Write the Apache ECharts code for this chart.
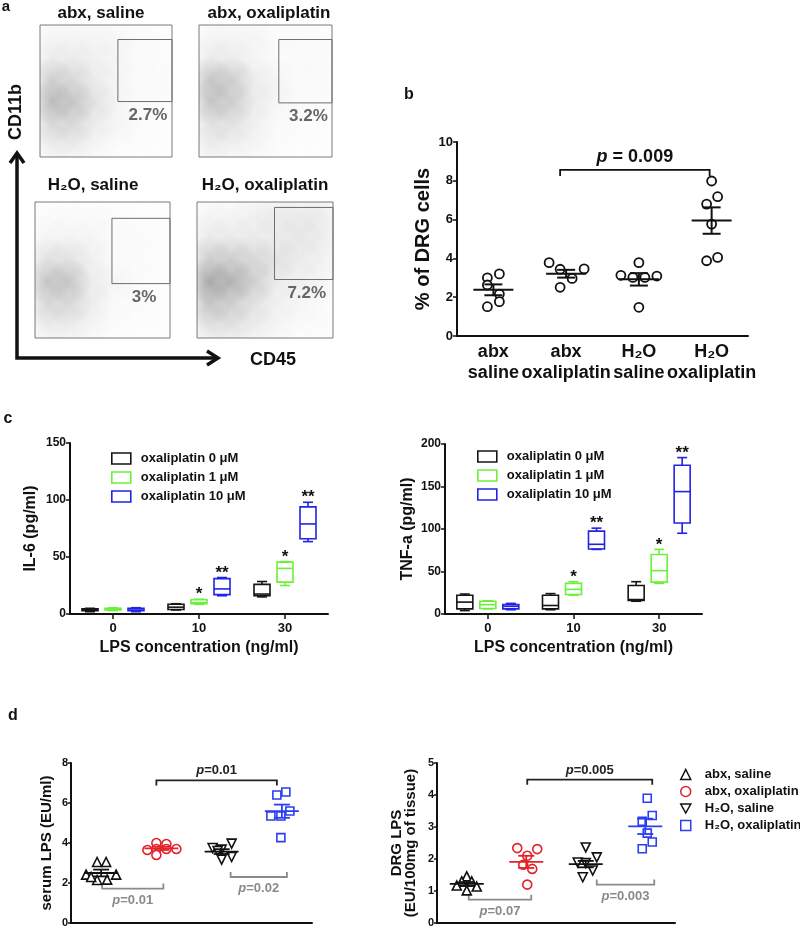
<!DOCTYPE html>
<html><head><meta charset="utf-8">
<script src="https://cdn.jsdelivr.net/npm/echarts@6/dist/echarts.min.js"></script>
<style>html,body{margin:0;padding:0;background:#fff}#c{width:800px;height:929px}</style>
</head><body><div id="c"></div>
<script>
// ================= DATA =================
// Panel a: flow cytometry (CD45 x CD11b), relative event density read on a 6x6 grid (rows top->bottom)
const flowTitles = ['abx, saline', 'abx, oxaliplatin', 'H\u2082O, saline', 'H\u2082O, oxaliplatin'];
const flowPercent = ['2.7%', '3.2%', '3%', '7.2%'];
const gateCD45 = [[59, 100], [60, 100], [57, 100], [57, 100]];     // gate range on CD45 scale (0-100)
const gateCD11b = [[42, 89], [41, 89], [40, 88], [43, 96]];        // gate range on CD11b scale (0-100)
const densAbxSaline = [
  [1, 1, 1, 0.8, 0.5, 0.3],
  [2, 2, 1.5, 1, 0.5, 0.5],
  [5, 4, 2, 1, 0.5, 0.5],
  [7, 6, 3, 1, 0.5, 0.5],
  [4, 4, 2, 1, 0.5, 0.3],
  [2, 2, 1, 0.5, 0.3, 0.3]];
const densAbxOxali = [
  [1, 1, 1, 0.5, 0.5, 0.5],
  [2, 2, 1, 0.5, 0.5, 0.5],
  [6, 5, 2, 1, 0.5, 0.5],
  [6, 5, 2, 1, 0.5, 0.5],
  [3, 3, 1.5, 0.5, 0.5, 0.3],
  [2, 1.5, 1, 0.5, 0.3, 0.3]];
const densH2OSaline = [
  [0.5, 0.5, 0.5, 0.5, 0.3, 0.3],
  [1, 1, 1, 0.5, 0.5, 0.3],
  [3, 3, 1.5, 0.5, 0.5, 0.3],
  [6, 6, 2, 1, 0.5, 0.3],
  [4, 4, 2, 0.5, 0.5, 0.3],
  [2, 2, 1, 0.5, 0.3, 0.3]];
const densH2OOxali = [
  [1, 1, 1.5, 2, 2, 2],
  [2, 2, 2, 2, 2.5, 2],
  [5, 5, 4, 3, 2, 1.5],
  [9, 8, 5, 2, 1.5, 1],
  [6, 5, 3, 1.5, 1, 0.5],
  [3, 3, 2, 1, 0.5, 0.5]];

// Panel b: % of DRG cells
const bCategories = ['abx\nsaline', 'abx\noxaliplatin', 'H\u2082O\nsaline', 'H\u2082O\noxaliplatin'];
const bAbxSaline = [3.0, 3.2, 2.63, 2.16, 1.77, 1.51];
const bAbxOxali = [3.78, 3.44, 3.46, 2.97, 2.51];
const bH2OSaline = [3.78, 3.13, 3.02, 3.02, 3.09, 1.48];
const bH2OOxali = [7.99, 7.18, 6.8, 5.77, 4.05, 3.88];
const bMean = [2.38, 3.21, 2.92, 5.95];
const bSem = [0.28, 0.2, 0.32, 0.68];
const bBrackets = [[1, 3, 8.56]];
const bBracketText = ['{i|p} = 0.009'];
const bTicks = [0, 2, 4, 6, 8, 10];

// Panel c: cytokines (box: min, q1, median, q3, max) per LPS concentration
const lpsCategories = ['0', '10', '30'];
const doseNames = ['oxaliplatin 0 \u03bcM', 'oxaliplatin 1 \u03bcM', 'oxaliplatin 10 \u03bcM'];
const il6Dose0 = [[2, 3, 3.5, 4.5, 5], [3.5, 4, 6, 8.5, 9], [15, 16, 17.5, 26, 28.5]];
const il6Dose1 = [[3, 3.5, 4, 5, 5.5], [8.5, 9, 10, 12.5, 13], [25, 28, 40, 45.5, 46]];
const il6Dose10 = [[2, 3, 3.5, 5, 5.5], [16, 17, 22, 31, 32], [63.5, 66, 79, 94, 98]];
const tnfDose0 = [[4, 6, 14, 22, 23.5], [5, 6, 10, 22, 24], [15, 16, 17, 33.5, 38]];
const tnfDose1 = [[6, 6.5, 11, 15, 15.6], [22, 23, 29, 36, 38], [36, 37.5, 51, 70, 76]];
const tnfDose10 = [[5, 6, 9, 11, 12.5], [76, 76.5, 82, 97.5, 101], [95, 107, 144, 175, 184]];
const starsDose0 = ['', '', ''];
const starsDose1 = ['', '*', '*'];
const starsDose10 = ['', '**', '**'];

// Panel d: LPS levels
const dGroups = ['abx, saline', 'abx, oxaliplatin', 'H\u2082O, saline', 'H\u2082O, oxaliplatin'];
const serumAbxSaline = [3.05, 3.05, 2.42, 2.42, 2.15, 2.17, 2.3];
const serumAbxOxali = [4.0, 3.95, 3.65, 3.7, 3.7, 3.7, 3.4];
const serumH2OSaline = [3.75, 3.67, 3.97, 3.17, 3.3, 3.6];
const serumH2OOxali = [6.4, 6.55, 5.35, 5.35, 5.6, 4.27];
const serumMean = [2.5, 3.73, 3.57, 5.59];
const serumSem = [0.17, 0.08, 0.12, 0.33];
const serumBrackets = [[1, 3, 7.13], [0, 1, 1.72], [2, 3, 2.3]];
const serumBracketText = ['{i|p}=0.01', '{i|p}=0.01', '{i|p}=0.02'];
const drgAbxSaline = [1.46, 1.3, 1.3, 1.17, 1.14, 1.02];
const drgAbxOxali = [2.34, 2.31, 2.1, 1.82, 1.69, 1.2];
const drgH2OSaline = [2.36, 2.05, 1.89, 1.87, 1.64, 1.43];
const drgH2OOxali = [3.9, 3.36, 3.18, 2.81, 2.53, 2.32];
const drgMean = [1.22, 1.91, 1.84, 3.02];
const drgSem = [0.06, 0.19, 0.1, 0.24];
const drgBrackets = [[1, 3, 4.48], [0, 1, 0.73], [2, 3, 1.2]];
const drgBracketText = ['{i|p}=0.005', '{i|p}=0.07', '{i|p}=0.003'];

// ================= STYLE (jitter offsets in px, colors, layout) =================
const FONT = '"Liberation Sans", Arial, Helvetica, sans-serif';
const bJitter = [[-6, 6, -6, 6, 6, -6], [-17, -6, 18, 6, -6], [0, -18, -6, 6, 18, 0], [0, 6, -5, 0, 6, -5]];
const serumJitter = [[-4, 5, -15, 15, -4, 6, -10], [-5, 5, -14, -5, 5, 15, -5], [-9, 0, 10, 0, 10, -4], [-5, 4, -11, -1, 8, -1]];
const drgJitter = [[0, -5, 5, -10, 10, 0], [-9, 11, 1, -3, 6, 1], [0, 11, -8, 0, 7, -3], [2, 7, -3, 2, 7, -3]];
const doseColors = ['#151515', '#6cf03a', '#2323e6'];
const doseOffsets = [-23, 0, 23];
const groupColors = ['#111111', '#e3222b', '#111111', '#2b3ef0'];
const groupSymbols = ['triangle', 'circle', 'triangle', 'rect'];
const groupRotate = [0, 0, 180, 0];
const serumBracketStyle = [
  { dx1: -5, dx2: -5, down: true, color: '#222' },
  { dx1: 1, dx2: 2, down: false, color: '#8a8a8a' },
  { dx1: 9, dx2: 5, down: false, color: '#8a8a8a' }];
const drgBracketStyle = [
  { dx1: 1, dx2: 7, down: true, color: '#222' },
  { dx1: 2, dx2: 5, down: false, color: '#8a8a8a' },
  { dx1: 11, dx2: 9, down: false, color: '#8a8a8a' }];
const bBracketStyle = [{ dx1: -6, dx2: -2, down: true, color: '#111' }];

// ================= BUILD =================
const chart = echarts.init(document.getElementById('c'));

const grids = [
  { left: 40, top: 25, width: 132, height: 132 },
  { left: 199, top: 25, width: 133, height: 132 },
  { left: 35, top: 202, width: 135, height: 136 },
  { left: 197, top: 202, width: 136, height: 136 },
  { left: 457, top: 142, width: 291, height: 194 },
  { left: 70, top: 443, width: 258, height: 171 },
  { left: 445, top: 444, width: 257, height: 170 },
  { left: 71, top: 763, width: 241, height: 160 },
  { left: 437, top: 763, width: 238, height: 160 }
].map((g, i) => Object.assign({
  outerBoundsMode: 'none', containLabel: false,
  show: i < 4, borderColor: '#7a7a7a', borderWidth: 1, backgroundColor: 'transparent'
}, g));

const xAxes = [], yAxes = [];
for (let k = 0; k < 4; k++) {
  xAxes.push({ gridIndex: k, type: 'value', min: 0, max: 100, show: false });
  yAxes.push({ gridIndex: k, type: 'value', min: 0, max: 100, show: false });
}
const axLine = { show: true, lineStyle: { color: '#111', width: 2 } };
const tickLbl = (size) => ({ color: '#111', fontFamily: FONT, fontWeight: 'bold', fontSize: size });
// b
xAxes.push({ gridIndex: 4, type: 'category', data: bCategories, axisLine: axLine, axisTick: { show: false },
  axisLabel: Object.assign(tickLbl(18), { margin: 6, lineHeight: 21, interval: 0 }) });
yAxes.push({ gridIndex: 4, type: 'value', min: 0, max: 10, interval: 2, axisLine: axLine,
  axisTick: { show: true, length: 4, lineStyle: { width: 1.5, color: '#111' } }, splitLine: { show: false },
  axisLabel: Object.assign(tickLbl(13), { margin: 4 }),
  name: '% of DRG cells', nameLocation: 'middle', nameGap: 24, nameRotate: 90,
  nameTextStyle: { color: '#111', fontFamily: FONT, fontWeight: 'bold', fontSize: 20 } });
// c
[[5, 'IL-6 (pg/ml)', 150, 31], [6, 'TNF-a (pg/ml)', 200, 29]].forEach(([gi, nm, mx, gap]) => {
  xAxes.push({ gridIndex: gi, type: 'category', data: lpsCategories, axisLine: axLine,
    axisTick: { show: true, alignWithLabel: true, length: 5, lineStyle: { width: 1.5, color: '#111' } },
    axisLabel: Object.assign(tickLbl(13), { margin: 8 }),
    name: 'LPS concentration (ng/ml)', nameLocation: 'middle', nameGap: 26,
    nameTextStyle: { color: '#111', fontFamily: FONT, fontWeight: 'bold', fontSize: 16 } });
  yAxes.push({ gridIndex: gi, type: 'value', min: 0, max: mx, interval: 50, axisLine: axLine,
    axisTick: { show: true, length: 4, lineStyle: { width: 1.5, color: '#111' } }, splitLine: { show: false },
    axisLabel: Object.assign(tickLbl(12), { margin: 4 }),
    name: nm, nameLocation: 'middle', nameGap: gap, nameRotate: 90,
    nameTextStyle: { color: '#111', fontFamily: FONT, fontWeight: 'bold', fontSize: 16 } });
});
// d
[[7, 'serum LPS (EU/ml)', 8, 2, 17], [8, 'DRG LPS\n(EU/100mg of tissue)', 5, 1, 19]].forEach(([gi, nm, mx, iv, gap]) => {
  xAxes.push({ gridIndex: gi, type: 'category', data: dGroups, axisLine: axLine,
    axisTick: { show: false }, axisLabel: { show: false } });
  yAxes.push({ gridIndex: gi, type: 'value', min: 0, max: mx, interval: iv, axisLine: axLine,
    axisTick: { show: true, length: 3, lineStyle: { width: 1.5, color: '#111' } }, splitLine: { show: false },
    axisLabel: Object.assign(tickLbl(11), { margin: 3 }),
    name: nm, nameLocation: 'middle', nameGap: gap, nameRotate: 90,
    nameTextStyle: { color: '#111', fontFamily: FONT, fontWeight: 'bold', fontSize: 15, lineHeight: 14 } });
});

const series = [];

// ---- panel a ----
const densities = [densAbxSaline, densAbxOxali, densH2OSaline, densH2OOxali];
const CELL = 100 / 6;
densities.forEach((grid, k) => {
  const data = [];
  grid.forEach((row, r) => row.forEach((d, c) => data.push([(c + 0.5) * CELL, 100 - (r + 0.5) * CELL, d])));
  series.push({
    type: 'custom', name: 'events' + k, xAxisIndex: k, yAxisIndex: k, clip: true, silent: true,
    data,
    renderItem: (params, api) => {
      const p = api.coord([api.value(0), api.value(1)]);
      const p2 = api.coord([api.value(0) + CELL, api.value(1)]);
      const rad = (p2[0] - p[0]) * 1.05;
      const a = Math.min(0.4, api.value(2) * 0.042);
      return { type: 'circle', shape: { cx: p[0], cy: p[1], r: rad },
        style: { fill: { type: 'radial', x: 0.5, y: 0.5, r: 0.5,
          colorStops: [{ offset: 0, color: 'rgba(40,40,40,' + a + ')' }, { offset: 1, color: 'rgba(40,40,40,0)' }] } } };
    }
  });
  series.push({
    type: 'custom', name: 'gate' + k, xAxisIndex: k, yAxisIndex: k, silent: true,
    data: [[gateCD45[k][0], gateCD45[k][1], gateCD11b[k][0], gateCD11b[k][1]]],
    renderItem: (params, api) => {
      const tl = api.coord([api.value(0), api.value(3)]);
      const br = api.coord([api.value(1), api.value(2)]);
      return { type: 'group', children: [
        { type: 'rect', shape: { x: tl[0], y: tl[1], width: br[0] - tl[0], height: br[1] - tl[1] },
          style: { fill: 'none', stroke: '#6e6e6e', lineWidth: 1 } },
        { type: 'text', x: (tl[0] + br[0]) / 2 + 3, y: br[1] + 5,
          style: { text: flowPercent[k], fill: '#666', font: 'bold 17px ' + FONT, align: 'center', verticalAlign: 'top' } }
      ] };
    }
  });
});

// ---- generic renderers ----
function meanSemRender(colors, halfMean, halfCap, lw) {
  return (params, api) => {
    const i = api.value(0), m = api.value(1), s = api.value(2);
    const pm = api.coord([i, m]), pt = api.coord([i, m + s]), pb = api.coord([i, m - s]);
    const x = pm[0];
    const st = { stroke: colors[params.dataIndex], lineWidth: lw };
    return { type: 'group', children: [
      { type: 'line', shape: { x1: x - halfMean, y1: pm[1], x2: x + halfMean, y2: pm[1] }, style: st },
      { type: 'line', shape: { x1: x, y1: pt[1], x2: x, y2: pb[1] }, style: st },
      { type: 'line', shape: { x1: x - halfCap, y1: pt[1], x2: x + halfCap, y2: pt[1] }, style: st },
      { type: 'line', shape: { x1: x - halfCap, y1: pb[1], x2: x + halfCap, y2: pb[1] }, style: st }
    ] };
  };
}
function bracketRender(texts, styles, tick, fontSize, gapUp, gapDown) {
  return (params, api) => {
    const st = styles[params.dataIndex];
    const p1 = api.coord([api.value(0), api.value(2)]);
    const p2 = api.coord([api.value(1), api.value(2)]);
    const x1 = p1[0] + st.dx1, x2 = p2[0] + st.dx2, y = p1[1];
    const t = st.down ? tick : -tick;
    return { type: 'group', children: [
      { type: 'polyline', shape: { points: [[x1, y + t], [x1, y], [x2, y], [x2, y + t]] },
        style: { fill: 'none', stroke: st.color, lineWidth: 1.8 } },
      { type: 'text', x: (x1 + x2) / 2, y: st.down ? y - gapUp : y + gapDown,
        style: { text: texts[params.dataIndex], fill: st.color, font: 'bold ' + fontSize + 'px ' + FONT,
          align: 'center', verticalAlign: st.down ? 'bottom' : 'top',
          rich: { i: { fontStyle: 'italic', fontWeight: 'bold', fontSize: fontSize, fontFamily: FONT, fill: st.color } } } }
    ] };
  };
}

// ---- panel b ----
const bGroupsVals = [bAbxSaline, bAbxOxali, bH2OSaline, bH2OOxali];
const bPts = [];
bGroupsVals.forEach((vals, g) => vals.forEach((v, j) => bPts.push({ value: [g, v], symbolOffset: [bJitter[g][j], 0] })));
series.push({ type: 'scatter', name: 'DRG cells', xAxisIndex: 4, yAxisIndex: 4, data: bPts, symbol: 'circle', symbolSize: 9,
  itemStyle: { color: '#fff', borderColor: '#111', borderWidth: 1.8, opacity: 1 }, silent: true, z: 2 });
series.push({ type: 'custom', name: 'bMean', xAxisIndex: 4, yAxisIndex: 4, silent: true, z: 3,
  data: bMean.map((m, i) => [i, m, bSem[i]]), renderItem: meanSemRender(['#111', '#111', '#111', '#111'], 20, 9, 2) });
series.push({ type: 'custom', name: 'bBracket', xAxisIndex: 4, yAxisIndex: 4, silent: true,
  data: bBrackets, renderItem: bracketRender(bBracketText, bBracketStyle, 6, 18, 4, 4) });

// ---- panel c ----
function boxRender(offset, color, stars) {
  return (params, api) => {
    const i = api.value(0);
    const xc = api.coord([i, 0])[0] + offset;
    const y = [1, 2, 3, 4, 5].map(k => api.coord([i, api.value(k)])[1]);
    const hb = 8, hc = 5;
    const st = { stroke: color, lineWidth: 1.6, fill: 'none' };
    const ch = [
      { type: 'rect', shape: { x: xc - hb, y: y[3], width: 2 * hb, height: Math.max(1, y[1] - y[3]) }, style: st },
      { type: 'line', shape: { x1: xc - hb, y1: y[2], x2: xc + hb, y2: y[2] }, style: st },
      { type: 'line', shape: { x1: xc, y1: y[3], x2: xc, y2: y[4] }, style: st },
      { type: 'line', shape: { x1: xc - hc, y1: y[4], x2: xc + hc, y2: y[4] }, style: st },
      { type: 'line', shape: { x1: xc, y1: y[1], x2: xc, y2: y[0] }, style: st },
      { type: 'line', shape: { x1: xc - hc, y1: y[0], x2: xc + hc, y2: y[0] }, style: st }
    ];
    const s = stars[params.dataIndex];
    if (s) ch.push({ type: 'text', x: xc, y: y[4] + 4,
      style: { text: s, fill: '#111', font: 'bold 17px ' + FONT, align: 'center', verticalAlign: 'bottom' } });
    return { type: 'group', children: ch };
  };
}
const il6Sets = [il6Dose0, il6Dose1, il6Dose10];
const tnfSets = [tnfDose0, tnfDose1, tnfDose10];
const starSets = [starsDose0, starsDose1, starsDose10];
[[5, il6Sets], [6, tnfSets]].forEach(([ax, sets]) => {
  sets.forEach((set, d) => {
    series.push({ type: 'custom', name: doseNames[d], xAxisIndex: ax, yAxisIndex: ax, silent: true,
      itemStyle: { color: doseColors[d] },
      data: set.map((b, i) => [i].concat(b)), renderItem: boxRender(doseOffsets[d], doseColors[d], starSets[d]) });
  });
});

// ---- panel d ----
[[7, [serumAbxSaline, serumAbxOxali, serumH2OSaline, serumH2OOxali], serumJitter, serumMean, serumSem, serumBrackets, serumBracketText, serumBracketStyle],
 [8, [drgAbxSaline, drgAbxOxali, drgH2OSaline, drgH2OOxali], drgJitter, drgMean, drgSem, drgBrackets, drgBracketText, drgBracketStyle]]
  .forEach(([ax, groups, jit, mean, sem, br, brText, brStyle]) => {
    groups.forEach((vals, g) => {
      series.push({ type: 'scatter', name: dGroups[g], xAxisIndex: ax, yAxisIndex: ax, silent: true, z: 2,
        symbol: groupSymbols[g], symbolRotate: groupRotate[g], symbolSize: g === 3 ? 8 : 9,
        itemStyle: { color: '#fff', borderColor: groupColors[g], borderWidth: 1.6, opacity: 1 },
        data: vals.map((v, j) => ({ value: [g, v], symbolOffset: [jit[g][j], 0] })) });
    });
    series.push({ type: 'custom', name: 'mean' + ax, xAxisIndex: ax, yAxisIndex: ax, silent: true, z: 3,
      data: mean.map((m, i) => [i, m, sem[i]]), renderItem: meanSemRender(groupColors, 17, 8, 1.8) });
    series.push({ type: 'custom', name: 'br' + ax, xAxisIndex: ax, yAxisIndex: ax, silent: true,
      data: br, renderItem: bracketRender(brText, brStyle, 5, 13, 3, 5) });
  });

// ---- legends ----
const legendText = { color: '#111', fontFamily: FONT, fontWeight: 'bold', fontSize: 13, padding: [0, 0, 0, 5] };
const boxLegendData = doseNames.map((n, d) => ({ name: n, icon: 'rect',
  itemStyle: { color: 'transparent', borderColor: doseColors[d], borderWidth: 1.6 } }));
const legends = [
  { left: 106, top: 447, orient: 'vertical', itemWidth: 19, itemHeight: 11, itemGap: 6, selectedMode: false,
    data: boxLegendData, textStyle: legendText },
  { left: 472, top: 445, orient: 'vertical', itemWidth: 19, itemHeight: 11, itemGap: 6, selectedMode: false,
    data: boxLegendData, textStyle: legendText },
  { left: 675, top: 763, orient: 'vertical', itemWidth: 10, itemHeight: 10, itemGap: 4, selectedMode: false,
    textStyle: Object.assign({}, legendText, { fontSize: 13, padding: [0, 0, 0, 9] }),
    data: dGroups.map((n, g) => ({ name: n,
      icon: g === 2 ? 'path://M0,0L10,0L5,9Z' : (g === 3 ? 'rect' : groupSymbols[g]),
      itemStyle: { color: 'transparent', borderColor: groupColors[g], borderWidth: 1.5 } })) }
];

// ---- decorations (titles, panel letters, flow axes) ----
const txt = (text, x, y, size, extra) => ({ type: 'text', x, y, silent: true,
  style: Object.assign({ text, fill: '#111', font: 'bold ' + size + 'px ' + FONT, align: 'center', verticalAlign: 'middle' }, extra || {}) });
const graphic = [
  txt('a', 6, 7, 15), txt('b', 409, 95, 16), txt('c', 8, 419, 16), txt('d', 13, 716, 16),
  txt(flowTitles[0], 101, 13, 17), txt(flowTitles[1], 269, 13, 17),
  txt(flowTitles[2], 93, 185, 17), txt(flowTitles[3], 265, 185, 17),
  txt('CD45', 273, 360, 18),
  { type: 'text', x: 16, y: 112, rotation: Math.PI / 2, silent: true,
    style: { text: 'CD11b', fill: '#111', font: 'bold 18px ' + FONT, align: 'center', verticalAlign: 'middle' } },
  { type: 'polyline', silent: true, shape: { points: [[17, 154], [17, 358], [216, 358]] },
    style: { stroke: '#111', lineWidth: 3.5, fill: 'none' } },
  { type: 'polyline', silent: true, shape: { points: [[10, 163], [17, 153], [24, 163]] },
    style: { stroke: '#111', lineWidth: 3.5, fill: 'none' } },
  { type: 'polyline', silent: true, shape: { points: [[207, 351], [218, 358], [207, 365]] },
    style: { stroke: '#111', lineWidth: 3.5, fill: 'none' } }
];

chart.setOption({
  animation: false,
  backgroundColor: '#fff',
  textStyle: { fontFamily: FONT },
  grid: grids, xAxis: xAxes, yAxis: yAxes,
  legend: legends,
  series, graphic
});
</script></body></html>
